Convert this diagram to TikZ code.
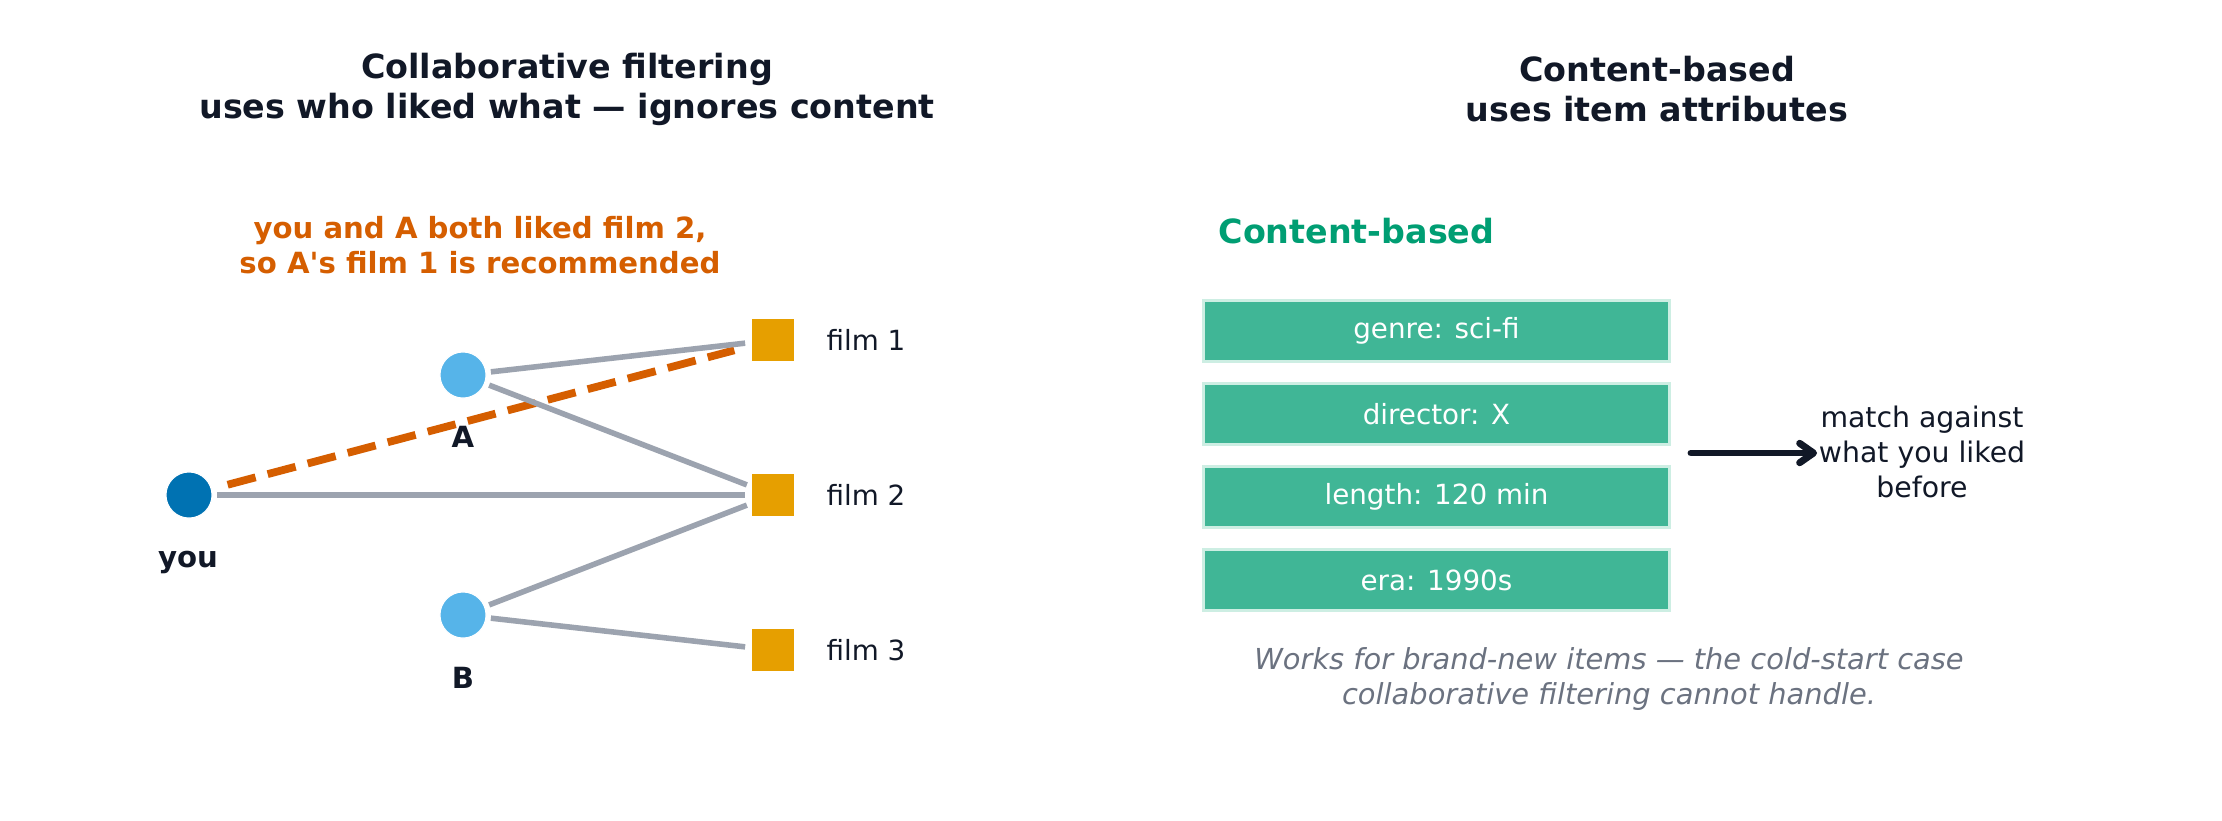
\documentclass[tikz,border=0pt]{standalone}
\usepackage{fontspec}
\setmainfont{DejaVu Sans}
\usetikzlibrary{arrows.meta}
\definecolor{ink}{HTML}{111827}
\definecolor{youblue}{HTML}{0072B2}
\definecolor{sky}{HTML}{56B4E9}
\definecolor{amber}{HTML}{E69F00}
\definecolor{verm}{HTML}{D55E00}
\definecolor{tealtxt}{HTML}{009E73}
\definecolor{boxfill}{HTML}{40B696}
\definecolor{boxedge}{HTML}{CDEEE3}
\definecolor{edgegray}{HTML}{9CA3AF}
\definecolor{capgray}{HTML}{6B7280}
\begin{document}
\begin{tikzpicture}[x=0.36pt,y=-0.36pt,
  title/.style={font=\fontsize{12}{14.4}\selectfont\bfseries, text=ink, align=center, inner sep=0pt},
  user/.style={circle, fill=sky, minimum size=16.6pt, inner sep=0pt, draw=white, line width=0.4pt},
  filmsq/.style={rectangle, fill=amber, minimum size=15.4pt, inner sep=0pt, draw=white, line width=0.4pt},
  lbl/.style={font=\fontsize{10.5}{12.6}\selectfont\bfseries, text=ink, inner sep=0pt, anchor=base},
  filmlbl/.style={font=\fontsize{10}{12}\selectfont, text=ink, anchor=west, inner sep=0pt},
  link/.style={draw=edgegray, line width=2pt, shorten <=10.1pt, shorten >=10.1pt},
  rec/.style={draw=verm, line width=2.8pt, dash pattern=on 10.4pt off 4.5pt, shorten <=14.4pt, shorten >=14.4pt},
  attr/.style={rectangle, fill=boxfill, draw=boxedge, line width=1pt, minimum width=167.8pt, minimum height=21.7pt, inner sep=0pt, text=white, font=\fontsize{10}{12}\selectfont},
  note/.style={font=\fontsize{10.2}{12.6}\selectfont, text=ink, align=center, inner sep=0pt},
  arr/.style={draw=ink, line width=2.5pt, line cap=round, -{Straight Barb[length=5pt,width=7pt,round]}}
]
\fill[white] (0,0) rectangle (2222,820);
\useasboundingbox (0,0) rectangle (2222,820);

% titles
\node[title] (tl) at (567,89) {Collaborative filtering\\uses who liked what — ignores content};
\node[title] (tr) at (1657,89) {Content-based\\uses item attributes};

% left panel
\node[font=\fontsize{10.5}{12.6}\selectfont\bfseries, text=verm, align=center, inner sep=0pt] (ann) at (480,245) {you and A both liked film 2,\\so A\textquotesingle s film 1 is recommended};

\node[user, fill=youblue] (you) at (189,495) {};
\node[user] (A) at (463,375) {};
\node[user] (B) at (463,615) {};
\node[filmsq] (f1) at (773,340) {};
\node[filmsq] (f2) at (773,495) {};
\node[filmsq] (f3) at (773,650) {};

\node[lbl] (youl) at (188,567) {you};
\node[lbl] (Al) at (463,447) {A};
\node[lbl] (Bl) at (463,688) {B};
\node[filmlbl] (f1l) at (826,340) {film 1};
\node[filmlbl] (f2l) at (826,495) {film 2};
\node[filmlbl] (f3l) at (826,650) {film 3};

\draw[rec] (you.center) -- (f1.center);
\draw[link] (A.center) -- (f1.center);
\draw[link] (A.center) -- (f2.center);
\draw[link] (you.center) -- (f2.center);
\draw[link] (B.center) -- (f2.center);
\draw[link] (B.center) -- (f3.center);

% right panel
\node[font=\fontsize{12}{14.4}\selectfont\bfseries, text=tealtxt, anchor=west, inner sep=0pt] (cb) at (1218,231) {Content-based};
\node[attr] (b1) at (1436.5,331) {genre: sci-fi};
\node[attr] (b2) at (1436.5,414) {director: X};
\node[attr] (b3) at (1436.5,497) {length: 120 min};
\node[attr] (b4) at (1436.5,580) {era: 1990s};

\coordinate (as) at (1691,453);
\coordinate (ae) at (1817,453);
\draw[arr] (as) -- (ae);
\node[note] (match) at (1922,452) {match against\\what you liked\\before};

\node[font=\fontsize{10.4}{12.6}\selectfont\itshape, text=capgray, align=center, inner sep=0pt] (cap) at (1609,679) {Works for brand-new items — the cold-start case\\collaborative filtering cannot handle.};
\end{tikzpicture}
\end{document}
